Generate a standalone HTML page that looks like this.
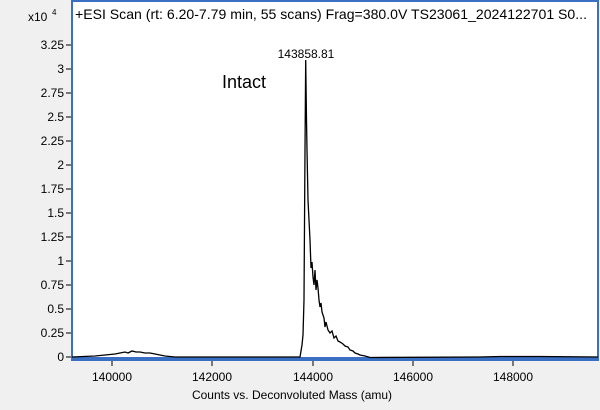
<!DOCTYPE html>
<html><head><style>
body{margin:0;background:#f0f0f0;width:600px;height:405px;overflow:hidden;font-family:"Liberation Sans",sans-serif}
</style></head><body>
<svg width="600" height="405" xmlns="http://www.w3.org/2000/svg" font-family="Liberation Sans, sans-serif">
<rect x="0" y="0" width="600" height="405" fill="#f0f0f0"/>
<rect x="72" y="1" width="526" height="359" fill="#fff" stroke="#3a6fc4" stroke-width="2"/>
<line x1="72" y1="358.5" x2="598" y2="358.5" stroke="#3a6fc4" stroke-width="3"/>
<text x="75" y="19" font-size="14" textLength="512" lengthAdjust="spacingAndGlyphs" fill="#000">+ESI Scan (rt: 6.20-7.79 min, 55 scans) Frag=380.0V TS23061_2024122701 S0...</text>
<text x="28" y="21" font-size="12">x10</text><text x="52" y="15" font-size="8">4</text>
<g font-size="12" text-anchor="end" fill="#000">
<text x="64" y="49">3.25</text><text x="64" y="73">3</text><text x="64" y="97">2.75</text><text x="64" y="121">2.5</text>
<text x="64" y="145">2.25</text><text x="64" y="169">2</text><text x="64" y="193">1.75</text><text x="64" y="217">1.5</text>
<text x="64" y="241">1.25</text><text x="64" y="265">1</text><text x="64" y="289">0.75</text><text x="64" y="313">0.5</text>
<text x="64" y="337">0.25</text><text x="64" y="361">0</text>
</g>
<g stroke="#000">
<line x1="66" y1="45" x2="71" y2="45"/><line x1="66" y1="69" x2="71" y2="69"/><line x1="66" y1="93" x2="71" y2="93"/><line x1="66" y1="117" x2="71" y2="117"/>
<line x1="66" y1="141" x2="71" y2="141"/><line x1="66" y1="165" x2="71" y2="165"/><line x1="66" y1="189" x2="71" y2="189"/><line x1="66" y1="213" x2="71" y2="213"/>
<line x1="66" y1="237" x2="71" y2="237"/><line x1="66" y1="261" x2="71" y2="261"/><line x1="66" y1="285" x2="71" y2="285"/><line x1="66" y1="309" x2="71" y2="309"/>
<line x1="66" y1="333" x2="71" y2="333"/><line x1="66" y1="357" x2="71" y2="357"/>
<line x1="112" y1="361" x2="112" y2="366"/><line x1="212" y1="361" x2="212" y2="366"/><line x1="313" y1="361" x2="313" y2="366"/><line x1="413" y1="361" x2="413" y2="366"/><line x1="513" y1="361" x2="513" y2="366"/>
</g>
<g font-size="12" text-anchor="middle">
<text x="112" y="381">140000</text><text x="212" y="381">142000</text><text x="313" y="381">144000</text><text x="413" y="381">146000</text><text x="513" y="381">148000</text>
<text x="292" y="399">Counts vs. Deconvoluted Mass (amu)</text>
<text x="306" y="58">143858.81</text>
</g>
<text x="222" y="88" font-size="18">Intact</text>
<path fill="none" stroke="#000" stroke-width="1.3" d="M72,357 L95,356 L105,355 L115,354 L120,353 L125,352 L128,353 L132,351 L136,352 L140,352 L145,353 L150,353 L155,354 L160,355 L165,356 L175,357 L300,357 L302,345 L303,335 L304,300 L305,150 L305.7,60 L306.5,120 L307,150 L308,200 L310,240 L311,268 L312,262 L313,277 L314,285 L315,270 L316,290 L317,280 L318,288 L319,300 L320,307 L321,303 L322,312 L324,318 L325,327 L326,322 L328,330 L330,333 L332,331 L334,338 L336,336 L338,341 L340,342 L343,344 L345,346 L348,347 L350,350 L353,351 L355,353 L358,354 L360,355 L365,356 L370,357.5 L480,357 L500,356.5 L540,356.5 L598,357"/>
</svg>
</body></html>
